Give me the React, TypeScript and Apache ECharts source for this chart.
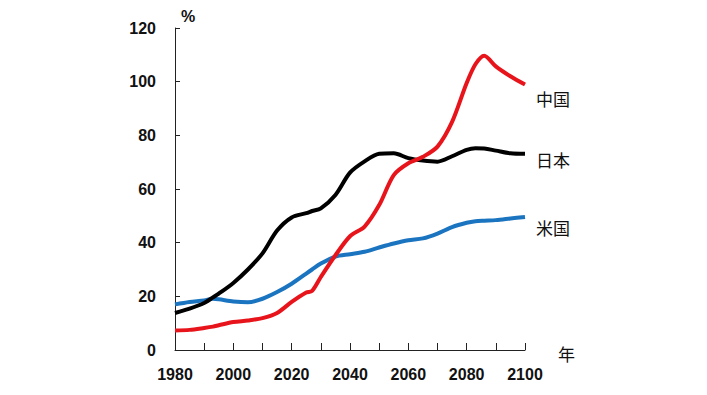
import React, { useEffect, useRef } from "react";
import * as echarts from "echarts";

const years = [1980, 1985, 1990, 1993, 1995, 2000, 2005, 2010, 2015, 2020, 2025, 2027, 2030, 2035, 2040, 2045, 2050, 2055, 2060, 2065, 2070, 2075, 2080, 2083, 2086, 2090, 2095, 2100];
const japan = [13.8, 15.4, 17.5, 19.6, 21, 25, 30, 36, 44.5, 49.4, 51, 51.8, 52.8, 57.8, 66.1, 70.3, 73.1, 73.3, 71.5, 70.6, 70.2, 72.2, 74.6, 75.2, 75.1, 74.3, 73.3, 73.1];
const china = [7.3, 7.5, 8.2, 8.7, 9.2, 10.4, 11, 11.9, 13.8, 17.9, 21.4, 22, 27.2, 35.3, 42.4, 46, 54, 65.2, 69.6, 72, 75.8, 85, 99.5, 106.5, 109.7, 105.7, 102, 98.9];
const usa = [17, 17.9, 18.5, 19.1, 18.9, 18.1, 17.8, 19.1, 21.6, 24.7, 28.5, 30, 32.2, 34.8, 35.7, 36.6, 38.2, 39.7, 40.9, 41.6, 43.4, 45.8, 47.4, 48, 48.2, 48.4, 49, 49.6];
const seriesNames = ["中国", "日本", "米国"];
const yTicks = [0, 20, 40, 60, 80, 100, 120];

export default function App() {
  const ref = useRef<HTMLDivElement>(null);
  useEffect(() => {
    if (!ref.current) return;
    const chart = echarts.init(ref.current, undefined, { renderer: "svg" });
    const mk = (vals: number[]) => years.map((y, i) => [y, vals[i]]);
    const lineStyle = (c: string) => ({ color: c, width: 4 });
    const labelFont = {
      fontFamily: "Liberation Sans, Arial, sans-serif",
      fontWeight: "bold" as const,
      fontSize: 16,
      color: "#111",
    };
    const cjk = {
      fontFamily: "Noto Sans CJK JP, sans-serif",
      fontSize: 17,
      fill: "#111",
    };
    chart.setOption({
      animation: false,
      backgroundColor: "#fff",
      grid: { left: 175, right: 182, top: 28, bottom: 45, containLabel: false },
      xAxis: {
        type: "value",
        min: 1980,
        max: 2100,
        interval: 10,
        splitLine: { show: false },
        axisLine: { lineStyle: { color: "#222", width: 1 } },
        axisTick: { inside: true, length: 7, lineStyle: { color: "#222" } },
        axisLabel: {
          ...labelFont,
          margin: 16,
          formatter: (v: number) => (v % 20 === 0 ? String(v) : ""),
        },
      },
      yAxis: {
        type: "value",
        min: yTicks[0],
        max: yTicks[yTicks.length - 1],
        interval: 20,
        splitLine: { show: false },
        axisLine: { show: true, lineStyle: { color: "#222", width: 1 } },
        axisTick: { show: true, inside: true, length: 5, lineStyle: { color: "#222" } },
        axisLabel: { ...labelFont, margin: 19 },
      },
      series: [
        { name: seriesNames[0], type: "line", data: mk(china), smooth: 0.3, showSymbol: false, lineStyle: lineStyle("#e8141b"), z: 3 },
        { name: seriesNames[1], type: "line", data: mk(japan), smooth: 0.3, showSymbol: false, lineStyle: lineStyle("#000000"), z: 2 },
        { name: seriesNames[2], type: "line", data: mk(usa), smooth: 0.3, showSymbol: false, lineStyle: lineStyle("#1b74c0"), z: 1 },
      ],
      graphic: [
        { type: "text", left: 181, top: 8, style: { text: "%", fontFamily: "Liberation Sans, Arial, sans-serif", fontWeight: "bold", fontSize: 16, fill: "#111" } },
        { type: "text", left: 558, top: 345, style: { text: "年", ...cjk } },
        { type: "text", left: 536, top: 90, style: { text: seriesNames[0], ...cjk } },
        { type: "text", left: 536, top: 151, style: { text: seriesNames[1], ...cjk } },
        { type: "text", left: 536, top: 219, style: { text: seriesNames[2], ...cjk } },
      ],
    });
    return () => chart.dispose();
  }, []);
  return <div ref={ref} style={{ width: 707, height: 395, position: "absolute", left: 0, top: 0 }} />;
}
